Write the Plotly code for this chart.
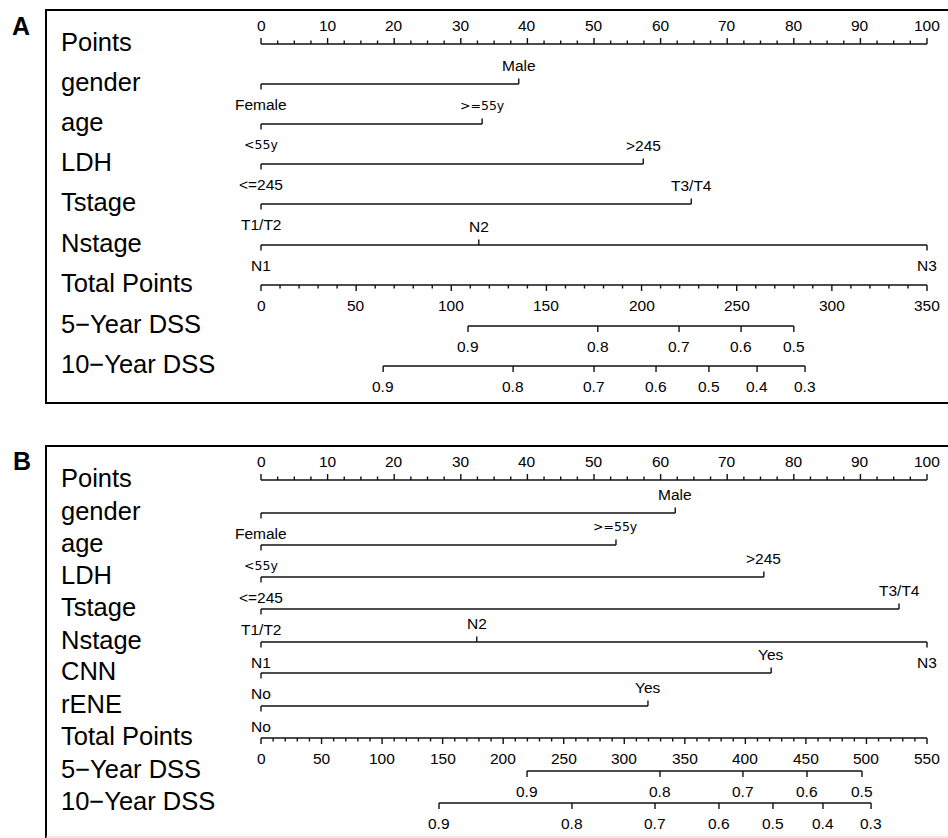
import plotly.graph_objects as go

# ---------------- data ----------------
points_ticks = [0, 10, 20, 30, 40, 50, 60, 70, 80, 90, 100]

# Panel A
a_gender_levels = ["Female", "Male"]
a_gender_points = [0, 38.7]
a_age_levels = ["<55y", ">=55y"]
a_age_points = [0, 33.2]
a_ldh_levels = ["<=245", ">245"]
a_ldh_points = [0, 57.4]
a_tstage_levels = ["T1/T2", "T3/T4"]
a_tstage_points = [0, 64.6]
a_nstage_levels = ["N1", "N2", "N3"]
a_nstage_points = [0, 32.7, 100]
a_total_max = 350
a_total_ticks = [0, 50, 100, 150, 200, 250, 300, 350]
a_dss5_probs = ["0.9", "0.8", "0.7", "0.6", "0.5"]
a_dss5_total = [108.8, 177.0, 219.7, 252.3, 280.0]
a_dss10_probs = ["0.9", "0.8", "0.7", "0.6", "0.5", "0.4", "0.3"]
a_dss10_total = [64.2, 132.5, 175.0, 207.6, 235.4, 260.7, 285.9]

# Panel B
b_gender_levels = ["Female", "Male"]
b_gender_points = [0, 62.2]
b_age_levels = ["<55y", ">=55y"]
b_age_points = [0, 53.3]
b_ldh_levels = ["<=245", ">245"]
b_ldh_points = [0, 75.5]
b_tstage_levels = ["T1/T2", "T3/T4"]
b_tstage_points = [0, 95.8]
b_nstage_levels = ["N1", "N2", "N3"]
b_nstage_points = [0, 32.4, 100]
b_cnn_levels = ["No", "Yes"]
b_cnn_points = [0, 76.6]
b_rene_levels = ["No", "Yes"]
b_rene_points = [0, 58.1]
b_total_max = 550
b_total_ticks = [0, 50, 100, 150, 200, 250, 300, 350, 400, 450, 500, 550]
b_dss5_probs = ["0.9", "0.8", "0.7", "0.6", "0.5"]
b_dss5_total = [219.7, 329.5, 398.0, 450.9, 496.3]
b_dss10_probs = ["0.9", "0.8", "0.7", "0.6", "0.5", "0.4", "0.3"]
b_dss10_total = [147.0, 256.8, 325.4, 378.2, 422.8, 464.1, 503.8]

# ---------------- layout / style ----------------
W, H = 948, 838
PX0, PX100 = 261.0, 927.0          # pixel of 0 and 100 points
PPP = (PX100 - PX0) / 100.0
X_RANGE = [(0 - PX0) / PPP, (W - PX0) / PPP]

LINE_COLOR = "#111111"
LW = 1.4
TXT_FONT = dict(family="Liberation Sans, Arial, sans-serif", size=15.5, color="#000")
AGE_FONT = dict(family="DejaVu Sans, Verdana, sans-serif", size=12.5, color="#000")
ROW_FONT = dict(family="Liberation Sans, Arial, sans-serif", size=25.5, color="#000")
LET_FONT = dict(family="Liberation Sans, Arial, sans-serif", size=25, color="#000")

MAJ, MIN, CAT_T = 6, 3.5, 5.5
ABOVE, BELOW = -19, 20

# row line positions (pixels from top)
A_ROWS = dict(Points=44, gender=84, age=124, LDH=164, Tstage=204, Nstage=245,
              Total=285, DSS5=326, DSS10=366)
B_ROWS = dict(Points=480, gender=513, age=545, LDH=577, Tstage=609, Nstage=642,
              CNN=673, rENE=706, Total=738, DSS5=771, DSS10=803)
LABEL_X_PX = 59
LABEL_DY = -2

fig = go.Figure()
annotations = []
xs, ys = [], []


def seg(x0, y0, x1, y1):
    xs.extend([x0, x1, None])
    ys.extend([y0, y1, None])


def txt(x, y, s, font=TXT_FONT, xanchor="center"):
    annotations.append(dict(x=x, y=y, xref="x", yref="y", text=s, showarrow=False,
                            font=font, xanchor=xanchor, yanchor="middle"))


def row_label(y, s):
    annotations.append(dict(x=LABEL_X_PX / W, y=y + LABEL_DY, xref="paper", yref="y",
                            text=s, showarrow=False, font=ROW_FONT,
                            xanchor="left", yanchor="middle"))


def points_axis(y):
    seg(points_ticks[0], y, points_ticks[-1], y)
    p = 0.0
    while p <= 100 + 1e-9:
        length = MAJ if abs(p % 10) < 1e-9 else MIN
        seg(p, y, p, y - length)
        p += 2.5
    for t in points_ticks:
        txt(t, y + ABOVE, str(t))


def cat_row(y, levels, pts, font=TXT_FONT):
    seg(min(pts), y, max(pts), y)
    for i, (lv, p) in enumerate(zip(levels, pts)):
        below = (i % 2 == 0)
        d = CAT_T if below else -CAT_T
        seg(p, y, p, y + d)
        txt(p, y + (BELOW if below else ABOVE), lv, font)


def total_axis(y, ticks, tmax):
    sc = 100.0 / tmax
    seg(0, y, tmax * sc, y)
    v = 0
    while v <= tmax:
        length = MAJ if v % 50 == 0 else MIN
        seg(v * sc, y, v * sc, y + length)
        v += 10
    for t in ticks:
        txt(t * sc, y + BELOW, str(t))


def prob_axis(y, probs, totals, tmax):
    sc = 100.0 / tmax
    seg(min(totals) * sc, y, max(totals) * sc, y)
    for pr, tp in zip(probs, totals):
        seg(tp * sc, y, tp * sc, y + MAJ)
        txt(tp * sc, y + BELOW, pr)


# ---- Panel A ----
R = A_ROWS
points_axis(R["Points"]); row_label(R["Points"], "Points")
cat_row(R["gender"], a_gender_levels, a_gender_points); row_label(R["gender"], "gender")
cat_row(R["age"], a_age_levels, a_age_points, AGE_FONT); row_label(R["age"], "age")
cat_row(R["LDH"], a_ldh_levels, a_ldh_points); row_label(R["LDH"], "LDH")
cat_row(R["Tstage"], a_tstage_levels, a_tstage_points); row_label(R["Tstage"], "Tstage")
cat_row(R["Nstage"], a_nstage_levels, a_nstage_points); row_label(R["Nstage"], "Nstage")
total_axis(R["Total"], a_total_ticks, a_total_max); row_label(R["Total"], "Total Points")
prob_axis(R["DSS5"], a_dss5_probs, a_dss5_total, a_total_max); row_label(R["DSS5"], "5\u2212Year DSS")
prob_axis(R["DSS10"], a_dss10_probs, a_dss10_total, a_total_max); row_label(R["DSS10"], "10\u2212Year DSS")

# ---- Panel B ----
R = B_ROWS
points_axis(R["Points"]); row_label(R["Points"], "Points")
cat_row(R["gender"], b_gender_levels, b_gender_points); row_label(R["gender"], "gender")
cat_row(R["age"], b_age_levels, b_age_points, AGE_FONT); row_label(R["age"], "age")
cat_row(R["LDH"], b_ldh_levels, b_ldh_points); row_label(R["LDH"], "LDH")
cat_row(R["Tstage"], b_tstage_levels, b_tstage_points); row_label(R["Tstage"], "Tstage")
cat_row(R["Nstage"], b_nstage_levels, b_nstage_points); row_label(R["Nstage"], "Nstage")
cat_row(R["CNN"], b_cnn_levels, b_cnn_points); row_label(R["CNN"], "CNN")
cat_row(R["rENE"], b_rene_levels, b_rene_points); row_label(R["rENE"], "rENE")
total_axis(R["Total"], b_total_ticks, b_total_max); row_label(R["Total"], "Total Points")
prob_axis(R["DSS5"], b_dss5_probs, b_dss5_total, b_total_max); row_label(R["DSS5"], "5\u2212Year DSS")
prob_axis(R["DSS10"], b_dss10_probs, b_dss10_total, b_total_max); row_label(R["DSS10"], "10\u2212Year DSS")

fig.add_trace(go.Scatter(x=xs, y=ys, mode="lines", line=dict(color=LINE_COLOR, width=LW),
                         hoverinfo="skip", showlegend=False))

# panel letters
annotations.append(dict(x=21 / W, y=26, xref="paper", yref="y", text="<b>A</b>", showarrow=False,
                        font=LET_FONT, xanchor="center", yanchor="middle"))
annotations.append(dict(x=22 / W, y=461, xref="paper", yref="y", text="<b>B</b>", showarrow=False,
                        font=LET_FONT, xanchor="center", yanchor="middle"))

# panel frames
box_x0 = 46 / W
shapes = [
    dict(type="path", xref="paper", yref="y",
         path=f"M 1.05 10 L {box_x0} 10 L {box_x0} 403 L 1.05 403",
         line=dict(color="#000", width=2)),
    dict(type="path", xref="paper", yref="y",
         path=f"M 1.05 446 L {box_x0} 446 L {box_x0} 838",
         line=dict(color="#000", width=2)),
    dict(type="line", xref="paper", yref="y", x0=box_x0, x1=1.05, y0=837, y1=837,
         line=dict(color="#d8d8d8", width=1)),
]

fig.update_layout(
    width=W, height=H,
    margin=dict(l=0, r=0, t=0, b=0),
    paper_bgcolor="white", plot_bgcolor="white",
    xaxis=dict(range=X_RANGE, visible=False, fixedrange=True),
    yaxis=dict(range=[H, 0], visible=False, fixedrange=True),
    annotations=annotations,
    shapes=shapes,
    showlegend=False,
)

fig.write_html(
    "out.html",
    config={"displayModeBar": False},
    post_script="document.body.style.margin='0';document.body.style.overflow='hidden';",
)
